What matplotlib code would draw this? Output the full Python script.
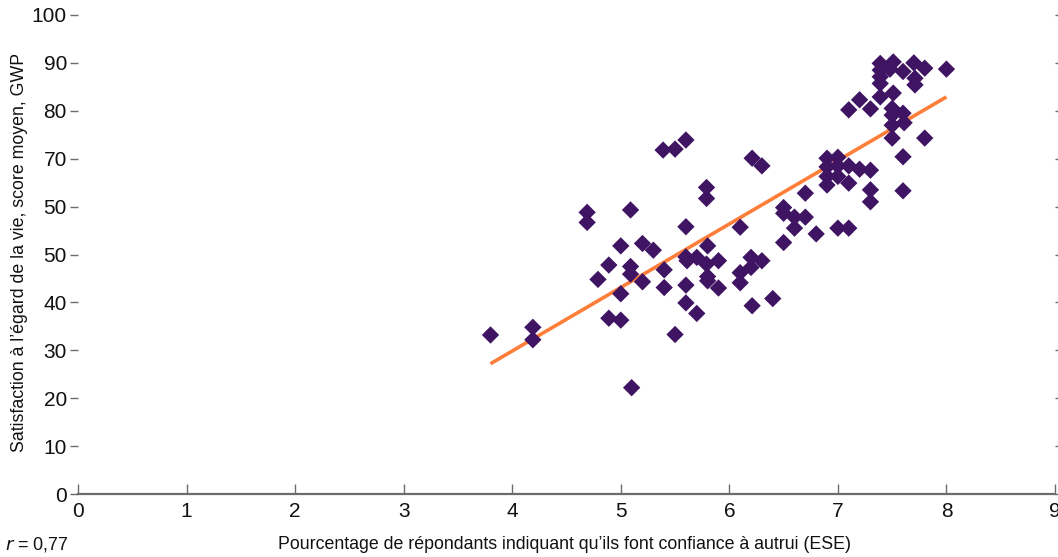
import matplotlib
matplotlib.use("Agg")
import matplotlib.pyplot as plt
from matplotlib import font_manager

# ---------------- data ----------------
trust = [3.80, 4.19, 4.19, 4.69, 4.69, 4.79, 4.89, 4.89, 5.00, 5.00, 5.00,
         5.09, 5.09, 5.09, 5.10, 5.20, 5.20, 5.30, 5.39, 5.40, 5.40,
         5.50, 5.50, 5.60, 5.60, 5.60, 5.61, 5.60, 5.60, 5.70, 5.70,
         5.79, 5.79, 5.80, 5.79, 5.80, 5.80, 5.90, 5.90,
         6.10, 6.10, 6.10, 6.21, 6.20, 6.20, 6.21, 6.30, 6.30, 6.40,
         6.50, 6.50, 6.50, 6.60, 6.60, 6.70, 6.70, 6.80,
         6.90, 6.90, 6.90, 6.90, 7.00, 7.00, 7.00, 7.00,
         7.10, 7.10, 7.10, 7.10, 7.20, 7.20, 7.30, 7.30, 7.30, 7.30,
         7.39, 7.39, 7.39, 7.39, 7.39,
         7.51, 7.48, 7.51, 7.50, 7.50, 7.50, 7.50,
         7.60, 7.60, 7.61, 7.60, 7.60,
         7.70, 7.71, 7.71, 7.80, 7.80, 8.00]
satisfaction = [33.2, 34.8, 32.2, 58.8, 56.7, 44.8, 47.8, 36.7, 51.8, 41.8, 36.3,
                59.3, 47.5, 45.9, 22.2, 52.3, 44.3, 50.9, 71.8, 46.8, 43.1,
                72.0, 33.3, 73.9, 55.8, 49.5, 48.7, 43.6, 39.9, 49.4, 37.7,
                64.0, 61.7, 51.8, 48.0, 45.4, 44.5, 48.7, 43.0,
                55.7, 46.2, 44.1, 70.1, 49.4, 47.3, 39.3, 68.5, 48.7, 40.8,
                59.8, 58.6, 52.5, 57.8, 55.5, 62.8, 57.8, 54.3,
                70.1, 68.3, 66.3, 64.5, 70.3, 68.5, 66.3, 55.5,
                80.2, 68.5, 64.9, 55.5, 82.3, 67.8, 80.4, 67.6, 63.5, 61.0,
                89.9, 88.5, 87.1, 85.7, 82.9,
                90.2, 88.7, 83.7, 80.5, 79.1, 77.0, 74.3,
                88.2, 79.5, 77.5, 70.4, 63.3,
                90.0, 86.8, 85.4, 88.9, 74.3, 88.7]
fit_x = [3.80, 8.00]
fit_y = [27.2, 82.9]

x_ticks = [0, 1, 2, 3, 4, 5, 6, 7, 8, 9]
y_ticks = [0, 10, 20, 30, 40, 50, 60, 70, 80, 90, 100]
y_tick_labels = ["0", "10", "20", "30", "40", "50", "50", "70", "80", "90", "100"]

x_label = "Pourcentage de répondants indiquant qu’ils font confiance à autrui (ESE)"
y_label = "Satisfaction à l’égard de la vie, score moyen, GWP"

# ---------------- style ----------------
names = {f.name for f in font_manager.fontManager.ttflist}
fam = "Liberation Sans Narrow" if "Liberation Sans Narrow" in names else "Liberation Sans"
plt.rcParams["font.family"] = [fam, "DejaVu Sans"]

fig = plt.figure(figsize=(10.58, 5.57), dpi=100)
ax = fig.add_axes([78 / 1058, 1 - 494 / 557, (1055 - 78) / 1058, (494 - 15) / 557])

ax.plot(fit_x, fit_y, color="#ff7f3a", lw=2.6, solid_capstyle="butt", zorder=2)
ax.scatter(trust, satisfaction, marker="D", s=78, color="#3f1463",
           edgecolors="none", zorder=3)

ax.set_xlim(0, 9)
ax.set_ylim(0, 100)
ax.set_xticks(x_ticks)
ax.set_xticklabels([str(t) for t in x_ticks])
ax.set_yticks(y_ticks)
ax.set_yticklabels(y_tick_labels)

for s in ["top", "left", "right"]:
    ax.spines[s].set_visible(False)
ax.spines["bottom"].set_color("#6b6b6b")
ax.spines["bottom"].set_linewidth(1.6)

ax.tick_params(axis="x", direction="in", length=7, width=1, color="#6b6b6b",
               labelsize=15, pad=6, labelcolor="#111111")
ax.tick_params(axis="y", direction="out", length=6, width=1, color="#6b6b6b",
               labelsize=15, pad=2, labelcolor="#111111", right=True)

ax.set_xlabel(x_label, fontsize=12.8, color="#111111")
ax.xaxis.set_label_coords((565 - 78) / (1055 - 78), -(536 - 494) / (494 - 15))
ax.set_ylabel(y_label, fontsize=12.8, color="#111111")
ax.yaxis.set_label_coords(-(78 - 20) / (1055 - 78), (494 - 252) / (494 - 15))
ax.yaxis.label.set_va("center")

fig.text(5 / 1058, 1 - 545 / 557, r"$\it{r}$ = 0,77", fontsize=13, color="#111111",
         va="center", ha="left")

fig.savefig("out.png", dpi=100, facecolor="white")
